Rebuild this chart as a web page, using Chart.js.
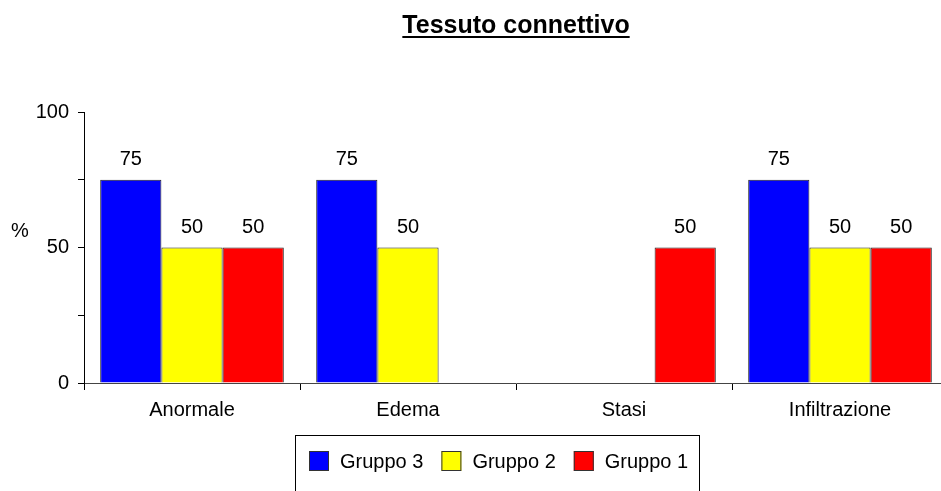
<!DOCTYPE html>
<html>
<head>
<meta charset="utf-8">
<title>Tessuto connettivo</title>
<script src="https://cdn.jsdelivr.net/npm/chart.js@4.4.1/dist/chart.umd.min.js"></script>
<style>
  html, body { margin: 0; padding: 0; background: #fff; overflow: hidden; }
  #wrap { width: 941px; height: 491px; overflow: hidden; }
  #wrap canvas { display: block; }
</style>
</head>
<body>
<div id="wrap"><canvas id="chart" width="960" height="491"></canvas></div>
<script>
// Dati
const categories = ['Anormale', 'Edema', 'Stasi', 'Infiltrazione'];
const gruppo3 = [75, 75, 0, 75];
const gruppo2 = [50, 50, 0, 50];
const gruppo1 = [50, 0, 50, 50];
const yTicks = [0, 50, 100];

const FONT = '"Liberation Sans", Arial, sans-serif';

// Titolo, etichetta "%", valori sopra le barre e legenda con cornice
const decorPlugin = {
    id: 'decor',
    afterDraw(chart) {
        const ctx = chart.ctx;
        const area = chart.chartArea;
        ctx.save();

        // titolo sottolineato
        ctx.font = 'bold 25px ' + FONT;
        ctx.fillStyle = '#000';
        ctx.textAlign = 'center';
        ctx.textBaseline = 'alphabetic';
        const tx = (area.left + area.right) / 2;
        ctx.fillText('Tessuto connettivo', tx, 33);
        const tw = ctx.measureText('Tessuto connettivo').width;
        ctx.fillRect(tx - tw / 2, 36, tw, 2);

        // etichetta asse y
        ctx.font = '20px ' + FONT;
        ctx.textBaseline = 'middle';
        ctx.fillText('%', 20, 231);

        // valori
        ctx.textBaseline = 'alphabetic';
        chart.data.datasets.forEach((ds, i) => {
            chart.getDatasetMeta(i).data.forEach((bar, j) => {
                const v = ds.data[j];
                if (!v) return;
                ctx.fillText(String(v), bar.x, bar.y - 15);
            });
        });

        // legenda
        ctx.strokeStyle = '#000';
        ctx.lineWidth = 1;
        ctx.strokeRect(295.5, 435.5, 404, 70);
        let x = 309;
        ctx.textAlign = 'left';
        ctx.textBaseline = 'middle';
        chart.data.datasets.forEach(ds => {
            ctx.fillStyle = ds.backgroundColor;
            ctx.fillRect(x, 451, 20, 20);
            ctx.strokeStyle = '#333';
            ctx.strokeRect(x + 0.5, 451.5, 19, 19);
            ctx.fillStyle = '#000';
            ctx.fillText(ds.label, x + 31, 462);
            x += 31 + ctx.measureText(ds.label).width + 18;
        });

        ctx.restore();
    }
};

new Chart(document.getElementById('chart'), {
    type: 'bar',
    data: {
        labels: categories,
        datasets: [
            { label: 'Gruppo 3', data: gruppo3, backgroundColor: '#0000ff' },
            { label: 'Gruppo 2', data: gruppo2, backgroundColor: '#ffff00' },
            { label: 'Gruppo 1', data: gruppo1, backgroundColor: '#ff0000' }
        ]
    },
    options: {
        responsive: false,
        animation: false,
        layout: { padding: { left: 0, right: 12, top: 112, bottom: 58 } },
        datasets: {
            bar: {
                categoryPercentage: 0.85,
                barPercentage: 1,
                borderColor: '#222',
                borderWidth: 1
            }
        },
        plugins: {
            legend: { display: false },
            title: { display: false },
            tooltip: { enabled: false }
        },
        scales: {
            x: {
                grid: { offset: true, drawOnChartArea: false, tickLength: 7, color: '#000' },
                border: { color: '#444' },
                ticks: { color: '#000', font: { family: FONT, size: 20 }, padding: 8 },
                afterFit(scale) { scale.height = 50; }
            },
            y: {
                min: 0,
                max: 100,
                grid: { drawOnChartArea: false, tickLength: 6, color: '#000' },
                border: { color: '#000' },
                ticks: {
                    stepSize: 25,
                    color: '#000',
                    font: { family: FONT, size: 20 },
                    padding: 9,
                    callback: v => yTicks.includes(v) ? v : ''
                },
                afterFit(scale) { scale.width = 84; }
            }
        }
    },
    plugins: [decorPlugin]
});
</script>
</body>
</html>
